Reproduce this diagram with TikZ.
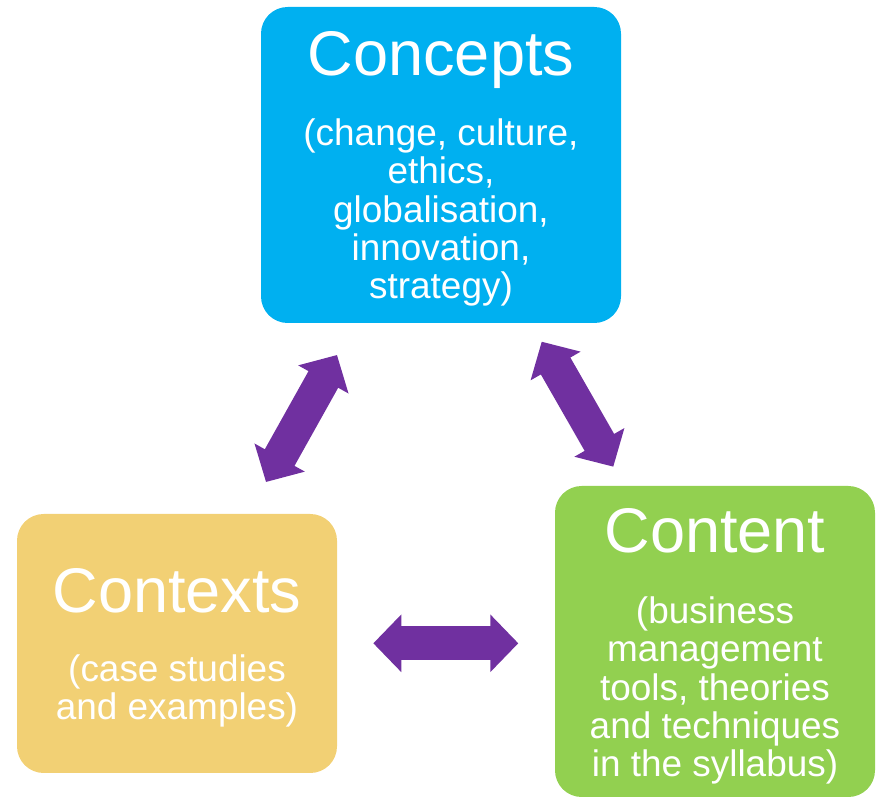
\documentclass[tikz,border=0pt]{standalone}
\usepackage{fontspec}
\setmainfont{Liberation Sans}
\usetikzlibrary{arrows.meta,positioning}
\definecolor{conceptblue}{HTML}{00B0F0}
\definecolor{contentgreen}{HTML}{92D050}
\definecolor{contextgold}{HTML}{F2D074}
\definecolor{linkpurple}{HTML}{7030A0}
\tikzset{
  box/.style={rounded corners=20pt, fill=#1, draw=none, inner sep=0pt},
  title/.style={text=white, font=\fontsize{47.3pt}{50pt}\selectfont, inner sep=0pt, anchor=base},
  body/.style={text=white, font=\fontsize{27.7pt}{28.7pt}\selectfont, align=center, inner sep=0pt, anchor=base},
  link/.style={linkpurple, line width=25.5pt,
    {Triangle[width=42pt,length=21pt]}-{Triangle[width=42pt,length=21pt]}}
}
\begin{document}
\begin{tikzpicture}[x=0.75pt,y=-0.75pt]
  \useasboundingbox (0,0) rectangle (876,798);
  % Concepts
  \node[box=conceptblue, minimum width=270pt, minimum height=237pt] (concepts) at (441,165) {};
  \node[title] (conceptsT) at ([yshift=-51.75pt]concepts.north) {Concepts};
  \node[body] (conceptsB) at ([yshift=-167.25pt]conceptsT.base)
    {(change, culture,\\ethics,\\globalisation,\\innovation,\\strategy)};
  % Contexts
  \node[box=contextgold, minimum width=240pt, minimum height=194.25pt] (contexts) at (177,643.5) {};
  \node[title] (contextsT) at ([yshift=-74.25pt]contexts.north) {Contexts};
  \node[body] (contextsB) at ([yshift=-80.25pt]contextsT.base)
    {(case studies\\and examples)};
  % Content
  \node[box=contentgreen, minimum width=240pt, minimum height=233.25pt] (content) at (715,641.5) {};
  \node[title] (contentT) at ([yshift=-50.25pt]content.north) {Content};
  \node[body] (contentB) at ([yshift=-168pt]contentT.base)
    {(business\\management\\tools, theories\\and techniques\\in the syllabus)};
  % Links
  \coordinate (cxA) at (266,482);
  \coordinate (cpA) at (337,355);
  \coordinate (cpB) at (541.7,341.7);
  \coordinate (ctB) at (613.3,466.7);
  \coordinate (cxC) at (373.3,643.3);
  \coordinate (ctC) at (518.3,643.3);
  \draw[link] (cxA) -- (cpA);
  \draw[link] (cpB) -- (ctB);
  \draw[link] (cxC) -- (ctC);
\end{tikzpicture}
\end{document}
